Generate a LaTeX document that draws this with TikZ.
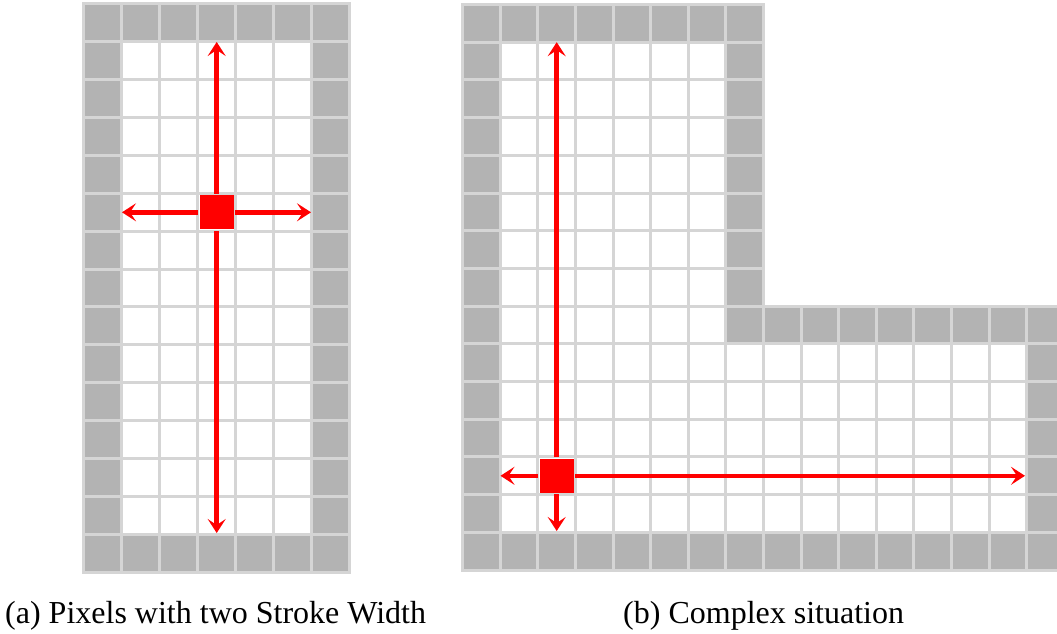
\documentclass[tikz,border=0pt]{standalone}
\usepackage{fontspec}
\setmainfont{Liberation Serif}
\usetikzlibrary{arrows.meta}
\definecolor{wall}{RGB}{179,179,179}
\definecolor{gridln}{RGB}{213,213,213}
\definecolor{pxred}{RGB}{255,0,0}
\tikzset{
  cellbox/.style={draw=gridln, line width=3pt},
  wallcell/.style={cellbox, fill=wall},
  freecell/.style={cellbox, fill=white},
  seed/.style={fill=pxred, draw=none, minimum size=34pt, inner sep=0pt, outer sep=0pt},
  probe/.style={draw=pxred, line width=4.5pt, shorten <=1.5pt,
    -{Stealth[length=14pt,width=18pt,inset=6pt]}},
  caption/.style={font=\fontsize{32}{38}\selectfont, anchor=base west, inner sep=0pt}
}
\begin{document}
\begin{tikzpicture}[x=1pt,y=-1pt]
\useasboundingbox (0,0) rectangle (1057,634);
\begin{scope}
\clip (0,0) rectangle (1057,634);
% (a) narrow corridor: 7 x 15 pixels, one-pixel wall all round
\def\ax{83.5}\def\ay{4}\def\aw{38.07}\def\ah{37.87}
\foreach \i in {0,...,6} \foreach \j in {0,...,14} {
  \pgfmathtruncatemacro\isw{(\i==0)||(\i==6)||(\j==0)||(\j==14)}
  \ifnum\isw=1 \def\st{wallcell}\else\def\st{freecell}\fi
  \draw[\st] (\ax+\i*\aw, \ay+\j*\ah) rectangle ++(\aw,\ah);
}
% (b) L-shaped region: 8 columns high part, 16 columns low part
\def\bx{462.7}\def\by{4.5}\def\bw{37.6}\def\bh{37.7}
\foreach \i in {0,...,15} \foreach \j in {0,...,14} {
  \pgfmathtruncatemacro\has{(\j>=8)||(\i<=7)}
  \ifnum\has=1
    \pgfmathtruncatemacro\isw{(\i==0)||(\j==14)||(\i==15)||((\j==0)&&(\i<=7))||((\i==7)&&(\j<=8))||((\j==8)&&(\i>=7))}
    \ifnum\isw=1 \def\st{wallcell}\else\def\st{freecell}\fi
    \draw[\st] (\bx+\i*\bw, \by+\j*\bh) rectangle ++(\bw,\bh);
  \fi
}
\end{scope}

% seed pixel and scan directions in (a)
\node[seed] (sa) at (216.7,212.3) {};
\coordinate (sa-up) at (216.7,42);
\coordinate (sa-down) at (216.7,533);
\coordinate (sa-left) at (122,212.3);
\coordinate (sa-right) at (311,212.3);
\draw[probe] (sa.north) -- (sa-up);
\draw[probe] (sa.south) -- (sa-down);
\draw[probe] (sa.west) -- (sa-left);
\draw[probe] (sa.east) -- (sa-right);

% seed pixel and scan directions in (b)
\node[seed] (sb) at (556.7,475.8) {};
\coordinate (sb-up) at (556.7,42.2);
\coordinate (sb-down) at (556.7,531);
\coordinate (sb-left) at (500.5,475.8);
\coordinate (sb-right) at (1025,475.8);
\draw[probe] (sb.north) -- (sb-up);
\draw[probe] (sb.south) -- (sb-down);
\draw[probe] (sb.west) -- (sb-left);
\draw[probe] (sb.east) -- (sb-right);

% captions
\node[caption] (capa) at (5,623) {(a) Pixels with two Stroke Width};
\node[caption] (capb) at (623,623) {(b) Complex situation};
\end{tikzpicture}
\end{document}
